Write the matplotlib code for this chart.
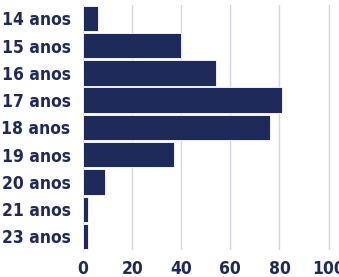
import matplotlib
matplotlib.use("Agg")
import matplotlib.pyplot as plt

ages = ["14 anos", "15 anos", "16 anos", "17 anos", "18 anos",
        "19 anos", "20 anos", "21 anos", "23 anos"]
counts = [6, 40, 54, 81, 76, 37, 9, 2, 2]
xticks = [0, 20, 40, 60, 80, 100]

navy = "#1e2a5a"
plt.rcParams["font.family"] = ["DejaVu Sans"]
plt.rcParams["font.stretch"] = "condensed"

fig = plt.figure(figsize=(3.39, 2.77), dpi=100)
ax = fig.add_axes([0.245, 0.097, 0.73, 0.886])

ypos = list(range(len(ages)))
ax.barh(ypos, counts, height=0.93, color=navy, edgecolor="white",
        linewidth=0.6, zorder=3)
ax.set_yticks(ypos)
ax.set_yticklabels(ages)
ax.set_ylim(len(ages) - 0.5, -0.5)
ax.set_xlim(0, 100.8)
ax.set_xticks(xticks)

ax.grid(axis="x", color="#d3d6e2", linewidth=1, zorder=0)
for s in ax.spines.values():
    s.set_visible(False)
ax.tick_params(length=0, colors=navy, labelsize=12.5)
for lab in ax.get_xticklabels() + ax.get_yticklabels():
    lab.set_fontweight("bold")
    lab.set_fontstretch("condensed")
ax.tick_params(axis="y", pad=9)
ax.tick_params(axis="x", pad=7)

fig.savefig("out.png", dpi=100)
